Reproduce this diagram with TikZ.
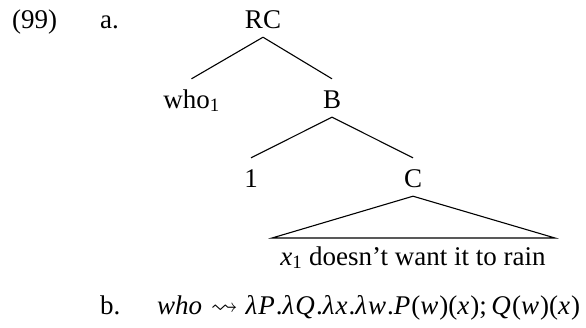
\documentclass[tikz,border=0pt]{standalone}
\usepackage{amssymb}
\usepackage{fontspec}
\setmainfont{Liberation Serif}
\newcommand\mvar[1]{\textit{#1}\kern1.05pt}
\begin{document}
\begin{tikzpicture}[x=1pt,y=-1pt,
  every node/.style={font=\fontsize{27}{32}\selectfont},
  lbl/.style={inner sep=0pt,anchor=base west},
  tn/.style={inner sep=0pt,anchor=base,text height=29pt,text depth=9pt},
  edge/.style={line width=1.1pt}]
\useasboundingbox (0,0) rectangle (586,327);
\node[lbl] (num) at (12,28) {(99)};
\node[lbl] (la) at (100,28) {a.};
\node[tn] (RC) at (263,28) {RC};
\node[tn] (who) at (191.5,108) {who\textsubscript{1}};
\node[tn] (B) at (332,108) {B};
\node[tn] (one) at (251,187) {1};
\node[tn] (C) at (413,187) {C};
\coordinate (tl) at (272,238);
\coordinate (tr) at (555,238);
\node[inner sep=0pt,anchor=base] (yield) at (413,265) {\textit{x}\textsubscript{1} doesn’t want it to rain};
\draw[edge] (RC.south) -- (who.north);
\draw[edge] (RC.south) -- (B.north);
\draw[edge] (B.south) -- (one.north);
\draw[edge] (B.south) -- (C.north);
\draw[edge,line join=miter] (C.south) -- (tl) -- (tr) -- cycle;
\node[lbl] (lb) at (100,314) {b.};
\node[lbl] (form) at (157,314) {\textit{who}\kern2pt\ $\rightsquigarrow$\ \kern1pt\mvar{λ}\mvar{P}.\mvar{λ}\mvar{Q}.\mvar{λ}\mvar{x}.\mvar{λ}\mvar{w}.\mvar{P}(\mvar{w})(\mvar{x});\,\mvar{Q}(\mvar{w})(\mvar{x})};
\end{tikzpicture}
\end{document}
